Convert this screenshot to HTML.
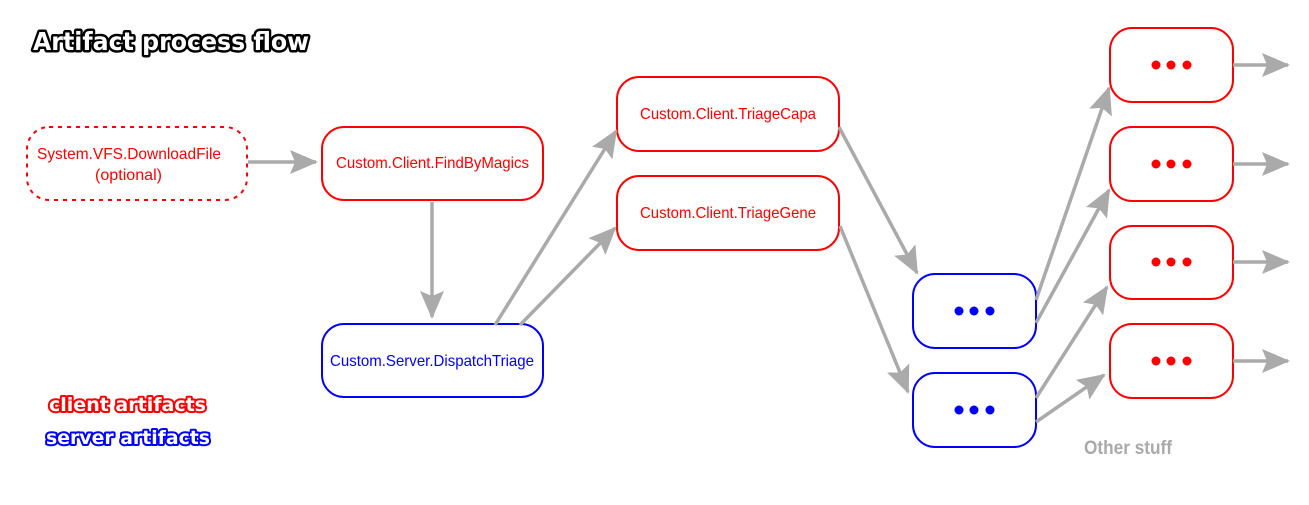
<!DOCTYPE html>
<html><head><meta charset="utf-8"><style>
html,body{margin:0;padding:0;background:#fff;}
svg{display:block;}
.t{font-family:"Liberation Sans",sans-serif;font-size:16px;}
.o{font-family:"DejaVu Sans",sans-serif;font-weight:bold;paint-order:stroke;stroke-linejoin:round;fill:#fff;}
</style></head><body>
<svg width="1309" height="505" viewBox="0 0 1309 505" xmlns="http://www.w3.org/2000/svg">
<defs>
<marker id="a" viewBox="0 0 28 24" refX="26" refY="12" markerWidth="28" markerHeight="24" markerUnits="userSpaceOnUse" orient="auto">
<path d="M0,0 L28,12 L0,24 L5,12 Z" fill="#aaa"/>
</marker>
</defs>
<text class="o" x="33" y="50" font-size="25" stroke="#000" stroke-width="5" textLength="276" lengthAdjust="spacingAndGlyphs">Artifact process flow</text>
<text class="o" x="49" y="411" font-size="19" stroke="#f00" stroke-width="4" textLength="157" lengthAdjust="spacingAndGlyphs">client artifacts</text>
<text class="o" x="46" y="444" font-size="19" stroke="#00f" stroke-width="4" textLength="164" lengthAdjust="spacingAndGlyphs">server artifacts</text>

<g fill="none" stroke-width="2">
<rect x="27" y="127" width="220" height="73" rx="22" stroke="#f00" stroke-dasharray="4,5"/>
<rect x="322" y="127" width="221" height="73" rx="22" stroke="#f00"/>
<rect x="322" y="324" width="221" height="73" rx="22" stroke="#00f"/>
<rect x="617" y="77" width="222" height="74" rx="22" stroke="#f00"/>
<rect x="617" y="176" width="222" height="74" rx="22" stroke="#f00"/>
<rect x="913" y="274" width="123" height="74" rx="22" stroke="#00f"/>
<rect x="913" y="373" width="123" height="74" rx="22" stroke="#00f"/>
<rect x="1110" y="28" width="123" height="74" rx="22" stroke="#f00"/>
<rect x="1110" y="127" width="123" height="74" rx="22" stroke="#f00"/>
<rect x="1110" y="226" width="123" height="73" rx="22" stroke="#f00"/>
<rect x="1110" y="324" width="123" height="74" rx="22" stroke="#f00"/>
</g>

<g class="t">
<text x="37" y="159" fill="#f00" textLength="184" lengthAdjust="spacingAndGlyphs">System.VFS.DownloadFile</text>
<text x="95" y="180" fill="#f00" textLength="67" lengthAdjust="spacingAndGlyphs">(optional)</text>
<text x="336" y="168" fill="#f00" textLength="193" lengthAdjust="spacingAndGlyphs">Custom.Client.FindByMagics</text>
<text x="330" y="366" fill="#00f" textLength="204" lengthAdjust="spacingAndGlyphs">Custom.Server.DispatchTriage</text>
<text x="640" y="119" fill="#f00" textLength="176" lengthAdjust="spacingAndGlyphs">Custom.Client.TriageCapa</text>
<text x="640" y="218" fill="#f00" textLength="176" lengthAdjust="spacingAndGlyphs">Custom.Client.TriageGene</text>
<text x="1084" y="454" fill="#aaa" font-weight="bold" font-size="19" textLength="88" lengthAdjust="spacingAndGlyphs">Other stuff</text>
</g>

<g fill="#00f">
<circle cx="959" cy="311" r="4.5"/><circle cx="974" cy="311" r="4.5"/><circle cx="990" cy="311" r="4.5"/>
<circle cx="959" cy="410" r="4.5"/><circle cx="974" cy="410" r="4.5"/><circle cx="990" cy="410" r="4.5"/>
</g>
<g fill="#f00">
<circle cx="1156" cy="65" r="4.5"/><circle cx="1171" cy="65" r="4.5"/><circle cx="1187" cy="65" r="4.5"/>
<circle cx="1156" cy="164" r="4.5"/><circle cx="1171" cy="164" r="4.5"/><circle cx="1187" cy="164" r="4.5"/>
<circle cx="1156" cy="262" r="4.5"/><circle cx="1171" cy="262" r="4.5"/><circle cx="1187" cy="262" r="4.5"/>
<circle cx="1156" cy="361" r="4.5"/><circle cx="1171" cy="361" r="4.5"/><circle cx="1187" cy="361" r="4.5"/>
</g>

<g stroke="#aaa" stroke-width="3.5" fill="none" marker-end="url(#a)">
<line x1="248" y1="162" x2="316" y2="162"/>
<line x1="432" y1="202" x2="432" y2="317"/>
<line x1="495" y1="325" x2="616" y2="131"/>
<line x1="520" y1="325" x2="615" y2="228"/>
<line x1="839" y1="127" x2="917" y2="273"/>
<line x1="840" y1="226" x2="908" y2="392"/>
<line x1="1036" y1="300" x2="1109" y2="88"/>
<line x1="1036" y1="323" x2="1109" y2="190"/>
<line x1="1036" y1="398" x2="1107" y2="287"/>
<line x1="1036" y1="422" x2="1104" y2="375"/>
<line x1="1233" y1="65" x2="1288" y2="65"/>
<line x1="1233" y1="164" x2="1288" y2="164"/>
<line x1="1233" y1="262" x2="1288" y2="262"/>
<line x1="1233" y1="361" x2="1288" y2="361"/>
</g>
</svg>
</body></html>
